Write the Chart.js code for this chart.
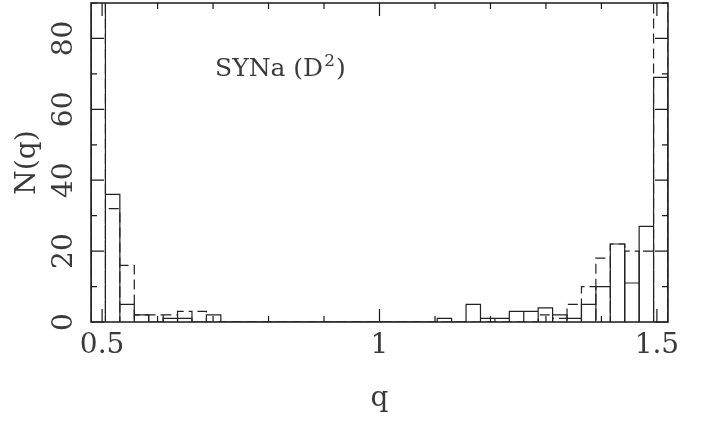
<!DOCTYPE html>
<html><head><meta charset="utf-8">
<script src="https://cdn.jsdelivr.net/npm/chart.js@4.4.0/dist/chart.umd.min.js"></script>
<style>html,body{margin:0;padding:0;background:#fff;}#wrap{width:702px;height:424px;}</style>
</head><body><div id="wrap"><canvas id="c" width="702" height="424"></canvas></div>
<script>
// Histogram bin edges (q)
const binEdges = [0.480, 0.506, 0.532, 0.558, 0.584, 0.610, 0.636, 0.662, 0.688, 0.714,
                  0.740, 0.766, 0.792, 0.818, 0.844, 0.870, 0.896, 0.922, 0.948, 0.974,
                  1.000, 1.026, 1.052, 1.078, 1.104, 1.130, 1.156, 1.182, 1.208, 1.234,
                  1.260, 1.286, 1.312, 1.338, 1.364, 1.390, 1.416, 1.442, 1.468, 1.494, 1.520];
// N(q) per bin, solid histogram (first bin runs off the top of the plot)
const solidCounts = [100, 36, 5, 2, 0, 1, 1, 0, 2, 0,
                     0, 0, 0, 0, 0, 0, 0, 0, 0, 0,
                     0, 0, 0, 0, 1, 0, 5, 1, 1, 3,
                     3, 4, 2, 1, 5, 10, 22, 11, 27, 69];
// N(q) per bin, dashed histogram (first and last bins run off the top)
const dashedCounts = [100, 32, 16, 2, 2, 2, 3, 3, 0, 0,
                      0, 0, 0, 0, 0, 0, 0, 0, 0, 0,
                      0, 0, 0, 0, 0, 0, 0, 0, 0, 0,
                      0, 2, 1, 5, 10, 18, 22, 20, 20, 100];
const xMajorTicks = [0.5, 1, 1.5];
const xTickLabels = ['0.5', '1', '1.5'];
const xMinorTicks = [0.6, 0.7, 0.8, 0.9, 1.1, 1.2, 1.3, 1.4];
const yMajorTicks = [0, 20, 40, 60, 80];
const yTickLabels = ['0', '20', '40', '60', '80'];
const yMinorTicks = [10, 30, 50, 70, 90];
const xTitle = 'q';
const yTitle = 'N(q)';
const noteMain = 'SYNa (D';
const noteSup = '2';
const noteEnd = ')';

const FONT = 'DejaVu Serif';
const INK = '#3a3a3a';

function outline(edges, counts) {
  const pts = [];
  for (let k = 0; k < counts.length; k++) {
    pts.push({x: edges[k], y: 0});
    pts.push({x: edges[k], y: counts[k]});
    pts.push({x: edges[k + 1], y: counts[k]});
    pts.push({x: edges[k + 1], y: 0});
  }
  return pts;
}

const decor = {
  id: 'decor',
  afterDatasetsDraw(chart) {
    const {ctx, chartArea: a, scales: {x, y}} = chart;
    ctx.save();
    ctx.strokeStyle = '#1a1a1a';
    ctx.lineWidth = 1.5;
    ctx.strokeRect(a.left, a.top, a.right - a.left, a.bottom - a.top);
    ctx.lineWidth = 1.2;
    ctx.beginPath();
    const xt = (v, len) => {
      const px = x.getPixelForValue(v);
      ctx.moveTo(px, a.bottom); ctx.lineTo(px, a.bottom - len);
      ctx.moveTo(px, a.top); ctx.lineTo(px, a.top + len);
    };
    const yt = (v, len) => {
      const py = y.getPixelForValue(v);
      ctx.moveTo(a.left, py); ctx.lineTo(a.left + len, py);
      ctx.moveTo(a.right, py); ctx.lineTo(a.right - len, py);
    };
    xMajorTicks.forEach(v => xt(v, 13));
    xMinorTicks.forEach(v => xt(v, 6));
    yMajorTicks.forEach(v => yt(v, 13));
    yMinorTicks.forEach(v => yt(v, 6));
    ctx.stroke();

    // rotated y tick labels
    ctx.fillStyle = INK;
    ctx.font = '28px "' + FONT + '"';
    ctx.textAlign = 'center';
    ctx.textBaseline = 'alphabetic';
    yMajorTicks.forEach((v, i) => {
      const py = y.getPixelForValue(v);
      ctx.save();
      ctx.translate(a.left - 19, py);
      ctx.rotate(-Math.PI / 2);
      ctx.fillText(yTickLabels[i], 0, 0);
      ctx.restore();
    });

    // annotation
    ctx.textAlign = 'left';
    const tx = x.getPixelForValue(0.7035), ty = y.getPixelForValue(69.3);
    ctx.font = '25px "' + FONT + '"';
    ctx.fillText(noteMain, tx, ty);
    let w = ctx.measureText(noteMain).width;
    ctx.font = '17px "' + FONT + '"';
    ctx.fillText(noteSup, tx + w + 1, ty - 10);
    w += ctx.measureText(noteSup).width + 2;
    ctx.font = '25px "' + FONT + '"';
    ctx.fillText(noteEnd, tx + w, ty);
    ctx.restore();
  }
};

new Chart(document.getElementById('c'), {
  type: 'scatter',
  data: {
    datasets: [
      {data: outline(binEdges, solidCounts), showLine: true, borderColor: '#222', borderWidth: 1.2,
       pointRadius: 0, fill: false, tension: 0, clip: 0},
      {data: outline(binEdges, dashedCounts), showLine: true, borderColor: '#222', borderWidth: 1.2,
       borderDash: [10, 5], pointRadius: 0, fill: false, tension: 0, clip: 0}
    ]
  },
  options: {
    animation: false, responsive: false, devicePixelRatio: 1,
    layout: {padding: {left: 0, right: 34, top: 3, bottom: 0}},
    plugins: {legend: {display: false}, tooltip: {enabled: false}},
    scales: {
      x: {
        type: 'linear', min: 0.48, max: 1.52,
        grid: {display: false, drawTicks: false}, border: {display: false},
        afterBuildTicks: s => { s.ticks = xMajorTicks.map(v => ({value: v})); },
        ticks: {
          callback: v => { const i = xMajorTicks.indexOf(v); return i >= 0 ? xTickLabels[i] : ''; },
          font: {family: FONT, size: 28}, color: INK, padding: 7, maxRotation: 0, minRotation: 0, autoSkip: false
        },
        title: {display: true, text: xTitle, font: {family: FONT, size: 28}, color: INK, padding: {top: 0, bottom: 8}},
        afterFit: s => { s.height = 102; }
      },
      y: {
        type: 'linear', min: 0, max: 90,
        grid: {display: false, drawTicks: false}, border: {display: false},
        ticks: {display: false},
        title: {display: true, text: yTitle, font: {family: FONT, size: 28}, color: INK, padding: {top: 11, bottom: 0}},
        afterFit: s => { s.width = 91; }
      }
    }
  },
  plugins: [decor]
});
</script>
</body></html>
